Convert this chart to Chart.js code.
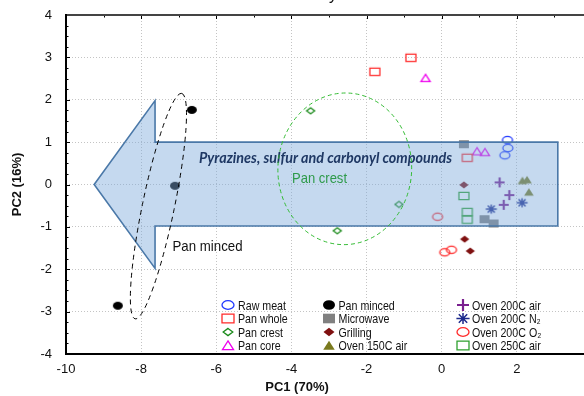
<!DOCTYPE html>
<html>
<head>
<meta charset="utf-8">
<script src="https://cdn.jsdelivr.net/npm/chart.js@4/dist/chart.umd.min.js"></script>
<style>
  html, body { margin: 0; padding: 0; background: #fff; overflow: hidden; }
  #wrap { width: 584px; height: 396px; overflow: hidden; }
  canvas { display: block; }
</style>
</head>
<body>
<div id="wrap"><canvas id="pca" width="600" height="396"></canvas></div>
<script>
// PCA scores (PC1, PC2) for each cooking treatment
const seriesNames = ["Raw meat", "Pan whole", "Pan crest", "Pan core",
                     "Pan minced", "Microwave", "Grilling", "Oven 150C air",
                     "Oven 200C air", "Oven 200C N\u2082", "Oven 200C O\u2082", "Oven 250C air"];
const rawMeat    = [[1.75, 1.05], [1.76, 0.86], [1.68, 0.69]];
const panWhole   = [[-1.78, 2.66], [-0.82, 2.99], [0.68, 0.63]];
const panCrest   = [[-3.49, 1.74], [-1.14, -0.47], [-2.78, -1.09]];
const panCore    = [[-0.43, 2.51], [0.94, 0.78], [1.15, 0.76]];
const panMinced  = [[-6.65, 1.76], [-7.10, -0.03], [-8.62, -2.86]];
const microwave  = [[0.59, 0.95], [1.14, -0.82], [1.38, -0.92]];
const grilling   = [[0.59, -0.01], [0.61, -1.29], [0.76, -1.57]];
const oven150Air = [[2.15, 0.09], [2.27, 0.11], [2.32, -0.18]];
const oven200Air = [[1.54, 0.05], [1.80, -0.25], [1.65, -0.48]];
const oven200N2  = [[1.32, -0.58], [2.14, -0.43]];
const oven200O2  = [[-0.11, -0.76], [0.08, -1.60], [0.26, -1.54]];
const oven250Air = [[0.59, -0.27], [0.68, -0.65], [0.68, -0.83]];

const xTicks = [-10, -8, -6, -4, -2, 0, 2, 4];
const yTicks = [-4, -3, -2, -1, 0, 1, 2, 3, 4];

const seriesData = [rawMeat, panWhole, panCrest, panCore, panMinced, microwave,
                    grilling, oven150Air, oven200Air, oven200N2, oven200O2, oven250Air];

// marker look per series
const markerShapes = ["ellipseOpen", "rectOpen", "diamondOpen", "triOpen",
                      "ellipseFill", "rectFill", "diamondFill", "triFill",
                      "plus", "star", "ellipseOpen", "rectOpen"];
const markerColors = ["#2038ff", "#ff2a2a", "#1a8a1a", "#ee00ee",
                      "#000000", "#808080", "#7f1010", "#7a7a1e",
                      "#7a1f8f", "#1c2a8c", "#ff2a2a", "#2ea02e"];

// annotations, in data units
const arrowOutline = [[-9.25, 0], [-7.63, 1.98], [-7.63, 1.0], [3.09, 1.0],
                      [3.09, -0.98], [-7.63, -0.98], [-7.63, -1.98]];

function drawMarker(ctx, shape, color, cx, cy, s) {
  ctx.save();
  ctx.strokeStyle = color;
  ctx.fillStyle = color;
  ctx.lineWidth = 1.3;
  ctx.beginPath();
  switch (shape) {
    case "ellipseOpen":
      ctx.ellipse(cx, cy, 5 * s, 3.6 * s, 0, 0, Math.PI * 2); ctx.stroke(); break;
    case "ellipseFill":
      ctx.ellipse(cx, cy, 5 * s, 4 * s, 0, 0, Math.PI * 2); ctx.fill(); break;
    case "rectOpen":
      ctx.rect(cx - 5 * s, cy - 3.6 * s, 10 * s, 7.2 * s); ctx.stroke(); break;
    case "rectFill":
      ctx.rect(cx - 5 * s, cy - 4 * s, 10 * s, 8 * s); ctx.fill(); break;
    case "diamondOpen":
      ctx.moveTo(cx, cy - 3 * s); ctx.lineTo(cx + 4 * s, cy); ctx.lineTo(cx, cy + 3 * s);
      ctx.lineTo(cx - 4 * s, cy); ctx.closePath(); ctx.stroke(); break;
    case "diamondFill":
      ctx.moveTo(cx, cy - 3.6 * s); ctx.lineTo(cx + 4.6 * s, cy); ctx.lineTo(cx, cy + 3.6 * s);
      ctx.lineTo(cx - 4.6 * s, cy); ctx.closePath(); ctx.fill(); break;
    case "triOpen":
      ctx.moveTo(cx, cy - 3.8 * s); ctx.lineTo(cx + 4.6 * s, cy + 3.4 * s);
      ctx.lineTo(cx - 4.6 * s, cy + 3.4 * s); ctx.closePath(); ctx.stroke(); break;
    case "triFill":
      ctx.moveTo(cx, cy - 4 * s); ctx.lineTo(cx + 4.8 * s, cy + 3.6 * s);
      ctx.lineTo(cx - 4.8 * s, cy + 3.6 * s); ctx.closePath(); ctx.fill(); break;
    case "plus":
      ctx.lineWidth = 2.2;
      ctx.moveTo(cx - 5 * s, cy); ctx.lineTo(cx + 5 * s, cy);
      ctx.moveTo(cx, cy - 5 * s); ctx.lineTo(cx, cy + 5 * s); ctx.stroke(); break;
    case "star":
      ctx.lineWidth = 1.5;
      ctx.moveTo(cx - 5.5 * s, cy); ctx.lineTo(cx + 5.5 * s, cy);
      ctx.moveTo(cx, cy - 4.5 * s); ctx.lineTo(cx, cy + 4.5 * s);
      ctx.moveTo(cx - 3.5 * s, cy - 3.5 * s); ctx.lineTo(cx + 3.5 * s, cy + 3.5 * s);
      ctx.moveTo(cx + 3.5 * s, cy - 3.5 * s); ctx.lineTo(cx - 3.5 * s, cy + 3.5 * s);
      ctx.stroke(); break;
  }
  ctx.restore();
}

function markerCanvas(shape, color) {
  const c = document.createElement("canvas");
  c.width = 16; c.height = 16;
  drawMarker(c.getContext("2d"), shape, color, 8, 8, 1);
  return c;
}

function fitText(ctx, text, cx, cy, w, font, color) {
  ctx.save();
  ctx.font = font;
  ctx.fillStyle = color;
  ctx.textAlign = "center";
  ctx.textBaseline = "middle";
  const m = ctx.measureText(text).width;
  ctx.translate(cx, cy);
  ctx.scale(w / m, 1);
  ctx.fillText(text, 0, 0);
  ctx.restore();
}

function line(ctx, x1, y1, x2, y2) {
  ctx.beginPath(); ctx.moveTo(x1, y1); ctx.lineTo(x2, y2); ctx.stroke();
}

const overlay = {
  id: "overlay",
  afterDatasetsDraw(chart) {
    const { ctx, chartArea: a, scales: { x, y } } = chart;
    const px = v => x.getPixelForValue(v);
    const py = v => y.getPixelForValue(v);

    // big arrow
    ctx.save();
    ctx.beginPath();
    arrowOutline.forEach(([u, v], i) => i ? ctx.lineTo(px(u), py(v)) : ctx.moveTo(px(u), py(v)));
    ctx.closePath();
    ctx.fillStyle = "rgba(126,170,219,0.45)";
    ctx.fill();
    ctx.lineWidth = 1.6;
    ctx.strokeStyle = "#4a78a8";
    ctx.stroke();
    ctx.restore();

    fitText(ctx, "Pyrazines, sulfur and carbonyl compounds", 325.5, 158, 253,
            "italic bold 15px Lato, 'Liberation Sans', sans-serif", "#1f3864");

    // Pan minced ellipse
    ctx.save();
    const tx = px(-6.92), ty = py(2.15), bx = px(-8.16), by = py(-3.17);
    const half = Math.hypot(tx - bx, ty - by) / 2;
    const rot = Math.atan2(ty - by, tx - bx);
    ctx.beginPath();
    ctx.ellipse((tx + bx) / 2, (ty + by) / 2, half, 16, rot, 0, Math.PI * 2);
    ctx.setLineDash([5, 4]);
    ctx.lineWidth = 1;
    ctx.strokeStyle = "#000";
    ctx.stroke();
    // Pan crest ellipse
    ctx.beginPath();
    ctx.ellipse(px(-2.58), py(0.37), px(-2.58 + 1.78) - px(-2.58), py(0.37) - py(0.37 + 1.79), 0.05, 0, Math.PI * 2);
    ctx.setLineDash([4, 3]);
    ctx.strokeStyle = "#33bb33";
    ctx.stroke();
    ctx.restore();

    fitText(ctx, "Pan crest", 319.5, 179, 55, "15px 'Liberation Sans', sans-serif", "#2e9a4a");
    fitText(ctx, "Pan minced", 207.5, 247, 70, "15px 'Liberation Sans', sans-serif", "#111");

    // legend, three columns of four
    const colMarkX = [228, 329, 463];
    const colTextX = [238, 338.5, 472];
    const rowY = [305, 318.5, 332, 345.5];
    seriesNames.forEach((name, k) => {
      const c = Math.floor(k / 4), r = k % 4;
      drawMarker(ctx, markerShapes[k], markerColors[k], colMarkX[c], rowY[r], 1.2);
      ctx.save();
      ctx.font = "13px 'Liberation Sans', sans-serif";
      ctx.fillStyle = "#111";
      ctx.textBaseline = "middle";
      ctx.translate(colTextX[c], rowY[r] + 1);
      ctx.scale(0.82, 1);
      ctx.fillText(name, 0, 0);
      ctx.restore();
    });

    // frame and small ticks
    ctx.save();
    ctx.strokeStyle = "#000";
    ctx.lineWidth = 1;
    for (let v = -4; v <= 4.001; v += 0.25) {
      const len = Math.abs(v - Math.round(v)) < 0.01 ? 4 : 2.5;
      line(ctx, a.left, Math.round(py(v)) + 0.5, a.left + len, Math.round(py(v)) + 0.5);
    }
    for (let v = -10; v <= 4; v += 1) {
      const len = v % 2 === 0 ? 4 : 2.5;
      line(ctx, Math.round(px(v)) + 0.5, a.top, Math.round(px(v)) + 0.5, a.top + len);
    }
    ctx.lineWidth = 2;
    ctx.strokeStyle = "#444";
    line(ctx, a.left, a.top, a.right, a.top);
    ctx.strokeStyle = "#000";
    line(ctx, a.left, a.top - 1, a.left, a.bottom + 1);
    line(ctx, a.left - 1, a.bottom, a.right, a.bottom);
    ctx.restore();

    // x axis title and the clipped chart title
    ctx.save();
    ctx.font = "bold 13px 'Liberation Sans', sans-serif";
    ctx.fillStyle = "#111";
    ctx.textAlign = "center";
    ctx.textBaseline = "middle";
    ctx.fillText("PC1 (70%)", 297, 387);
    ctx.font = "16px 'Liberation Sans', sans-serif";
    ctx.textAlign = "right";
    ctx.textBaseline = "alphabetic";
    ctx.fillText("Intensity", 337, -0.5);
    ctx.restore();
  }
};

const tickFont = { family: "'Liberation Sans Narrow', 'Arial Narrow', 'Liberation Sans', sans-serif", size: 13 };

new Chart(document.getElementById("pca"), {
  type: "scatter",
  data: {
    datasets: seriesNames.map((name, i) => ({
      label: name,
      data: seriesData[i].map(p => ({ x: p[0], y: p[1] })),
      pointStyle: markerCanvas(markerShapes[i], markerColors[i]),
      pointRadius: 6
    }))
  },
  options: {
    responsive: false,
    animation: false,
    events: [],
    layout: { padding: { top: 15, right: 8, left: 0, bottom: 0 } },
    plugins: { legend: { display: false }, tooltip: { enabled: false } },
    scales: {
      x: {
        type: "linear",
        min: -10, max: 4,
        afterBuildTicks: s => { s.ticks = xTicks.map(v => ({ value: v })); },
        afterFit: s => { s.height = 42; s.paddingLeft = 0; s.paddingRight = 0; },
        grid: { color: "#c4c4c4", lineWidth: 1, drawTicks: false },
        border: { display: false, dash: [1, 2] },
        ticks: { font: tickFont, color: "#111", padding: 8, maxRotation: 0 }
      },
      y: {
        type: "linear",
        min: -4, max: 4,
        afterBuildTicks: s => { s.ticks = yTicks.map(v => ({ value: v })); },
        afterFit: s => { s.width = 66; s.paddingTop = 0; s.paddingBottom = 0; },
        grid: { color: "#c4c4c4", lineWidth: 1, drawTicks: false },
        border: { display: false, dash: [1, 2] },
        ticks: { font: tickFont, color: "#111", padding: 14 },
        title: {
          display: true, text: "PC2 (16%)", color: "#111",
          font: { family: "'Liberation Sans', sans-serif", size: 13, weight: "bold" },
          padding: { top: 10, bottom: 0 }
        }
      }
    }
  },
  plugins: [overlay]
});
</script>
</body>
</html>
